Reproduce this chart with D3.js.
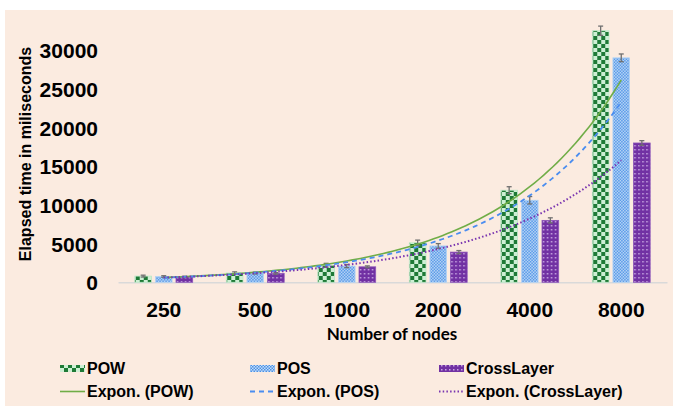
<!DOCTYPE html>
<html>
<head>
<meta charset="utf-8">
<script src="https://cdn.jsdelivr.net/npm/d3@7"></script>
<style>
  html, body { margin: 0; padding: 0; background: #ffffff; }
  svg { display: block; }
  .tick-label { font-family: "Liberation Sans", Arial, sans-serif; font-weight: bold; font-size: 21px; fill: #000; }
  .legend-label { font-family: "Liberation Sans", Arial, sans-serif; font-weight: bold; font-size: 16px; fill: #000; }
</style>
</head>
<body>
<svg id="chart" width="673" height="408"></svg>
<script>
// Elapsed time per consensus scheme, by network size
const categories = ["250", "500", "1000", "2000", "4000", "8000"];
const seriesNames = ["POW", "POS", "CrossLayer"];
const powValues = [800, 1200, 2200, 5100, 11900, 32500];
const posValues = [750, 1200, 2100, 4700, 10600, 29000];
const crossValues = [700, 1150, 2000, 3900, 8000, 18000];
const powErrors = [120, 150, 250, 350, 450, 600];
const posErrors = [100, 120, 200, 300, 480, 500];
const crossErrors = [80, 100, 120, 200, 330, 300];
const yTicks = [0, 5000, 10000, 15000, 20000, 25000, 30000];

const valuesBySeries = { POW: powValues, POS: posValues, CrossLayer: crossValues };
const errorsBySeries = { POW: powErrors, POS: posErrors, CrossLayer: crossErrors };

const svg = d3.select("#chart");
const W = 673, H = 408;

// chart background
svg.append("rect").attr("x", 5).attr("y", 10).attr("width", W - 5).attr("height", H - 12)
  .attr("fill", "#FBEBE0");

// fill patterns for the bars
const defs = svg.append("defs");
function checkerPattern(id, size, dark, light) {
  const p = defs.append("pattern").attr("id", id).attr("patternUnits", "userSpaceOnUse")
    .attr("width", size * 2).attr("height", size * 2);
  p.append("rect").attr("width", size * 2).attr("height", size * 2).attr("fill", light);
  p.append("rect").attr("x", 0).attr("y", 0).attr("width", size).attr("height", size).attr("fill", dark);
  p.append("rect").attr("x", size).attr("y", size).attr("width", size).attr("height", size).attr("fill", dark);
}
checkerPattern("pat-pow", 4, "#1E7A36", "#CDEFD4");
checkerPattern("pat-pos", 1.5, "#4A90E6", "#C4DDF7");
(function () {
  const p = defs.append("pattern").attr("id", "pat-cross").attr("patternUnits", "userSpaceOnUse")
    .attr("width", 4).attr("height", 4);
  p.append("rect").attr("width", 4).attr("height", 4).attr("fill", "#7131A3");
  p.append("rect").attr("x", 1).attr("y", 1).attr("width", 1.5).attr("height", 1.5).attr("fill", "#C7A6E2");
})();

const fills = { POW: "url(#pat-pow)", POS: "url(#pat-pos)", CrossLayer: "url(#pat-cross)" };
const strokes = { POW: "#BFE8C8", POS: "#B5D4F4", CrossLayer: "#8C55B8" };
const trendColors = { POW: "#70AD47", POS: "#4A8DF0", CrossLayer: "#7A35B0" };
const trendDash = { POW: null, POS: "5,4", CrossLayer: "1.5,2.2" };
const trendWidth = { POW: 1.6, POS: 1.8, CrossLayer: 2 };

// scales
const x0 = d3.scaleBand().domain(categories).range([118, 667]).paddingInner(0).paddingOuter(0);
const x1 = d3.scaleBand().domain(seriesNames).range([-31, 31]).paddingInner(0.19).paddingOuter(0.1);
const y = d3.scaleLinear().domain([0, 35000]).range([282.3, 11.4]);

// y axis labels
const yAxis = d3.axisLeft(y).tickValues(yTicks).tickFormat(d3.format("d")).tickSize(0).tickPadding(0);
const gy = svg.append("g").attr("transform", "translate(98,0)").call(yAxis);
gy.select(".domain").remove();
gy.attr("font-family", null).attr("font-size", null);
gy.selectAll("text").attr("class", "tick-label").attr("dy", "0.36em").attr("text-anchor", "end");

// x axis
const xAxis = d3.axisBottom(x0).tickSize(0).tickPadding(0);
const gx = svg.append("g").attr("transform", "translate(0,282.3)").call(xAxis);
gx.select(".domain").attr("stroke", "#D9D9D9").attr("stroke-width", 1.5);
gx.attr("font-family", null).attr("font-size", null);
gx.selectAll("text").attr("class", "tick-label").attr("y", 26.7).attr("dy", "0.36em");

// axis titles
svg.append("text")
  .attr("transform", "translate(30.5,154) rotate(-90)")
  .attr("text-anchor", "middle")
  .style("font-family", "'Liberation Sans', Arial, sans-serif")
  .style("font-weight", "bold").style("font-size", "16px")
  .text("Elapsed time in miliseconds");

svg.append("text")
  .attr("x", 392).attr("y", 340)
  .attr("text-anchor", "middle")
  .style("font-family", "Lato, 'Open Sans', sans-serif")
  .style("font-weight", "bold").style("font-size", "17px")
  .text("Number of nodes");

// bars
const groups = svg.append("g").selectAll("g").data(categories).join("g")
  .attr("transform", d => `translate(${x0(d) + x0.bandwidth() / 2},0)`);

seriesNames.forEach(s => {
  groups.append("rect")
    .attr("x", () => x1(s))
    .attr("width", x1.bandwidth())
    .attr("y", (d, i) => y(valuesBySeries[s][i]))
    .attr("height", (d, i) => y(0) - y(valuesBySeries[s][i]))
    .attr("fill", fills[s])
    .attr("stroke", strokes[s]).attr("stroke-width", 0.8);
});

// error bars
seriesNames.forEach(s => {
  const eb = groups.append("g").attr("stroke", "#707070").attr("stroke-width", 1.3);
  const cx = x1(s) + x1.bandwidth() / 2;
  eb.append("line")
    .attr("x1", cx).attr("x2", cx)
    .attr("y1", (d, i) => y(valuesBySeries[s][i] + errorsBySeries[s][i]))
    .attr("y2", (d, i) => y(valuesBySeries[s][i] - errorsBySeries[s][i]));
  [1, -1].forEach(sign => {
    eb.append("line")
      .attr("x1", cx - 2.5).attr("x2", cx + 2.5)
      .attr("y1", (d, i) => y(valuesBySeries[s][i] + sign * errorsBySeries[s][i]))
      .attr("y2", (d, i) => y(valuesBySeries[s][i] + sign * errorsBySeries[s][i]));
  });
});

// exponential trendlines: least-squares fit of ln(value) against category index 1..n
const xIdx = d3.scaleLinear().domain([1, categories.length])
  .range([x0(categories[0]) + x0.bandwidth() / 2, x0(categories[categories.length - 1]) + x0.bandwidth() / 2]);
function expFit(vals) {
  const xs = vals.map((v, i) => i + 1);
  const ls = vals.map(v => Math.log(v));
  const mx = d3.mean(xs), ml = d3.mean(ls);
  const b = d3.sum(xs, (xv, i) => (xv - mx) * (ls[i] - ml)) / d3.sum(xs, xv => (xv - mx) ** 2);
  const a = Math.exp(ml - b * mx);
  return t => a * Math.exp(b * t);
}
const line = d3.line().x(d => xIdx(d[0])).y(d => y(d[1]));
seriesNames.forEach(s => {
  const f = expFit(valuesBySeries[s]);
  const pts = d3.range(1, categories.length + 0.001, 0.05).map(t => [t, f(t)]);
  svg.append("path").datum(pts)
    .attr("d", line)
    .attr("fill", "none")
    .attr("stroke", trendColors[s])
    .attr("stroke-width", trendWidth[s])
    .attr("stroke-dasharray", trendDash[s]);
});

// legend
const legendCols = [60, 250, 439];
const legend = svg.append("g");
seriesNames.forEach((s, i) => {
  const lx = legendCols[i];
  legend.append("rect").attr("x", lx).attr("y", 365).attr("width", 25).attr("height", 7)
    .attr("fill", fills[s]);
  legend.append("text").attr("class", "legend-label").attr("x", lx + 27).attr("y", 374).text(s);
  legend.append("line").attr("x1", lx).attr("x2", lx + 25).attr("y1", 391.5).attr("y2", 391.5)
    .attr("stroke", trendColors[s]).attr("stroke-width", trendWidth[s])
    .attr("stroke-dasharray", trendDash[s]);
  legend.append("text").attr("class", "legend-label").attr("x", lx + 27).attr("y", 397)
    .text(`Expon. (${s})`);
});
</script>
</body>
</html>
